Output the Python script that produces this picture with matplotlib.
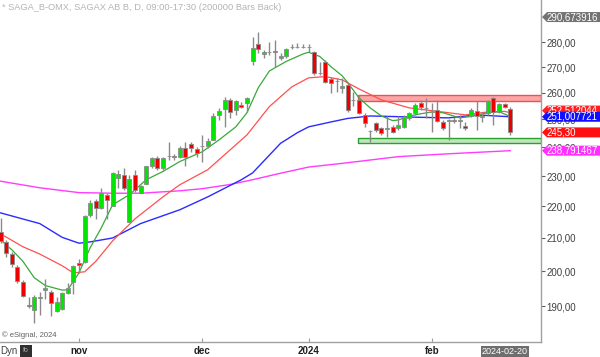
import numpy as np
import matplotlib
matplotlib.use("Agg")
import matplotlib.pyplot as plt
from matplotlib.patches import Polygon, Rectangle
from matplotlib.transforms import blended_transform_factory

plt.rcParams['font.family'] = ['Liberation Sans', 'DejaVu Sans']

# daily candles, SAGA B (bar index 0 = mid october 2023)
opens = [211.8, 208.8, 205.2, 201.3, 196.9, 190.2, 189.0, 192.3, 194.6, 194.1,
         188.7, 189.2, 193.8, 196.9, 202.5, 202.8, 217.3, 221.8, 219.5, 223.8,
         220.2, 229.4, 230.4, 215.1, 230.4, 224.5, 227.4, 233.3, 236.3, 232.9,
         236.8, 237.0, 236.7, 239.8, 241.2, 239.4, 240.3, 240.5, 242.6, 251.7,
         254.0, 257.4, 253.6, 255.5, 256.2, 272.5, 279.4, 275.3, 276.0, 276.4,
         273.7, 274.5, 278.0, 278.2, 278.0, 278.2, 276.2, 267.6, 272.1, 265.4,
         264.4, 261.9, 263.1, 257.2, 257.4, 251.7, 245.7, 248.8, 247.0, 246.6,
         247.3, 247.0, 247.3, 250.6, 252.4, 256.2, 254.2, 252.7, 253.6, 249.1,
         249.6, 249.8, 249.6, 247.7, 251.3, 253.2, 251.1, 252.4, 258.1, 252.8,
         255.8, 253.9]
highs = [216.3, 209.4, 205.8, 201.9, 197.5, 192.6, 193.2, 194.1, 197.8, 194.6,
         192.4, 194.1, 196.6, 201.9, 203.7, 217.3, 222.2, 222.5, 226.1, 224.5,
         231.5, 232.2, 232.9, 230.4, 232.2, 226.9, 233.6, 236.6, 237.0, 236.6,
         241.9, 237.7, 240.5, 241.9, 241.9, 240.1, 244.4, 243.3, 252.5, 254.4,
         258.5, 258.1, 257.4, 256.6, 258.5, 282.3, 284.4, 277.0, 280.2, 281.0,
         275.8, 277.8, 279.4, 279.8, 279.4, 279.4, 276.6, 272.1, 272.9, 266.2,
         265.8, 265.8, 263.8, 260.3, 259.2, 252.4, 246.2, 249.1, 247.3, 251.3,
         248.0, 251.3, 251.7, 252.8, 256.2, 257.4, 258.1, 256.2, 257.4, 249.8,
         250.2, 250.9, 251.7, 249.1, 254.4, 257.0, 252.8, 257.4, 258.5, 256.2,
         256.2, 254.7]
lows = [208.5, 204.3, 201.3, 196.4, 192.6, 189.5, 185.4, 187.6, 192.1, 187.3,
        188.2, 189.0, 193.5, 193.5, 199.5, 202.5, 216.7, 216.0, 219.2, 216.0,
        220.0, 226.1, 225.5, 215.0, 224.8, 224.3, 227.3, 232.9, 232.2, 232.2,
        235.6, 235.6, 236.3, 233.3, 238.4, 236.7, 234.9, 239.8, 242.4, 249.8,
        247.3, 250.6, 251.7, 254.4, 252.8, 270.9, 275.8, 273.7, 274.9, 270.1,
        272.9, 273.7, 277.4, 277.8, 277.8, 276.2, 267.0, 267.0, 263.8, 260.0,
        260.3, 260.0, 252.8, 255.1, 252.1, 247.3, 241.9, 245.5, 244.5, 243.7,
        245.2, 246.2, 247.0, 249.8, 251.7, 253.6, 250.6, 245.5, 249.1, 246.2,
        242.6, 248.8, 247.0, 246.2, 250.9, 246.2, 249.1, 251.7, 248.0, 252.4,
        254.4, 244.2]
closes = [209.1, 205.5, 202.2, 197.2, 192.9, 190.0, 192.4, 192.4, 195.2, 190.9,
          191.2, 193.8, 195.2, 201.6, 201.9, 217.0, 221.2, 219.5, 224.5, 222.2,
          231.1, 230.8, 226.1, 229.1, 225.2, 226.7, 233.3, 236.3, 232.9, 236.3,
          237.0, 236.7, 239.8, 236.7, 239.8, 238.1, 240.6, 242.2, 251.3, 253.2,
          257.4, 252.8, 257.0, 254.7, 258.1, 277.8, 277.4, 276.2, 276.2, 276.2,
          274.5, 277.4, 278.2, 278.0, 278.2, 278.0, 267.8, 267.8, 264.2, 263.8,
          264.6, 262.7, 253.6, 257.4, 252.4, 248.8, 245.9, 246.2, 245.2, 247.0,
          245.5, 248.0, 250.9, 252.4, 255.5, 254.7, 254.4, 252.9, 249.5, 247.0,
          249.8, 249.6, 249.8, 247.0, 253.6, 251.3, 251.3, 257.0, 252.8, 255.8,
          254.7, 245.3]

# moving averages (bar index, value)
ma10_x = [0, 2, 4, 6, 8, 11, 12, 14, 16, 18, 20, 23, 26, 29, 32, 36, 39, 42, 44,
          46, 48, 51, 54, 55, 57, 59, 61, 62, 64, 66, 68, 70, 71, 73, 75, 77, 79,
          82, 84, 87, 89, 91]
ma10_y = [209.4, 206.4, 202.9, 198.1, 195.8, 194.5, 194.6, 199.5, 207.0, 213.2,
          220.5, 223.8, 228.8, 231.6, 235.0, 238.4, 242.6, 247.3, 252.5, 261.9,
          268.5, 272.3, 275.3, 276.0, 274.3, 270.2, 266.6, 263.9, 258.1, 254.3,
          251.3, 249.6, 249.8, 251.3, 252.1, 252.8, 252.5, 250.6, 251.1, 252.5,
          252.9, 251.1]
ma20_x = [0, 4, 7, 11, 13, 15, 17, 20, 24, 29, 32, 37, 44, 48, 52, 55, 58, 61,
          64, 68, 71, 73, 80, 83, 87, 90, 91]
ma20_y = [211.3, 207.3, 205.1, 201.6, 199.5, 199.8, 202.9, 209.1, 216.0, 223.1,
          227.1, 232.2, 244.4, 254.8, 262.3, 265.8, 266.3, 265.0, 261.5, 257.3,
          255.5, 254.3, 252.5, 251.7, 252.8, 253.0, 252.5]
ma50_x = [0, 7, 11, 14, 16, 20, 25, 32, 37, 43, 45, 50, 53, 55, 59, 62, 66, 70,
          75, 80, 85, 91]
ma50_y = [217.9, 214.5, 210.2, 208.4, 208.8, 210.0, 214.5, 218.9, 223.1, 228.8,
          231.1, 241.4, 245.2, 247.3, 249.1, 250.4, 251.3, 251.1, 250.8, 250.6,
          251.7, 251.007721]
ma200_x = [0, 7, 14, 20, 25, 32, 36, 41, 45, 50, 55, 62, 71, 80, 91]
ma200_y = [228.3, 226.1, 224.5, 224.3, 224.3, 225.1, 225.8, 227.2, 228.8, 231.0,
           233.1, 234.6, 236.7, 237.7, 238.791467]

# support / resistance zones (start bar, low, high)
resist_zone = (63.8, 256.8, 259.2)
support_zone = (63.8, 241.4, 243.4)

month_pos = [14, 36, 55, 77]
month_lbl = ['nov', 'dec', '2024', 'feb']
price_ticks = [190, 200, 210, 220, 230, 240, 250, 260, 270, 280]

fig = plt.figure(figsize=(6, 3.57), dpi=100)
ax = fig.add_axes([0, 15 / 357, 541 / 600, 342 / 357])
ax.set_yscale('log')
ax.set_ylim(180.2, 298.06)
ax.set_xlim(-0.1, 96.5)

# zones
for (x0, lo, hi), fc, ec in [(resist_zone, '#f8a8a8', '#ff4a4a'),
                             (support_zone, '#bfe6bf', '#2ea02e')]:
    ax.add_patch(Rectangle((x0, lo), 96.5 - x0, hi - lo, facecolor=fc,
                           edgecolor=ec, lw=1, zorder=1))

# moving averages
ax.plot(ma200_x, ma200_y, color='#ff3cff', lw=1, zorder=2)
ax.plot(ma50_x, ma50_y, color='#2b2bff', lw=1, zorder=2)
ax.plot(ma20_x, ma20_y, color='#ff5050', lw=0.9, zorder=2)
ax.plot(ma10_x, ma10_y, color='#3aa83a', lw=0.9, zorder=2)

# candles
idx = np.arange(len(closes))
o = np.array(opens); c = np.array(closes)
ax.vlines(idx, lows, highs, color='#8a8a8a', lw=1, zorder=3)
cols = np.where(c >= o, '#00e600', '#ee0000')
ax.bar(idx, np.maximum(np.abs(c - o), 0.05), bottom=np.minimum(o, c), width=0.72,
       color=cols, edgecolor='#8a8a8a', lw=0.6, zorder=4)

# axes styling
for s in ['left', 'top']:
    ax.spines[s].set_visible(False)
for s in ['right', 'bottom']:
    ax.spines[s].set_color('#a0a0a0')
    ax.spines[s].set_linewidth(1)
ax.yaxis.tick_right()
ax.set_yticks(price_ticks)
ax.set_yticklabels([f"{v:.2f}".replace('.', ',') for v in price_ticks])
ax.yaxis.set_minor_locator(matplotlib.ticker.NullLocator())
ax.tick_params(axis='y', direction='out', length=3, width=0.8, color='#606060',
               labelsize=7, labelcolor='#404040', pad=1)
ax.set_xticks(month_pos)
ax.set_xticklabels(month_lbl, fontweight='bold')
ax.tick_params(axis='x', direction='in', length=3, width=0.8, color='#a0a0a0',
               labelsize=7, labelcolor='#202020', pad=3)

# price tags on the right scale
trans = blended_transform_factory(fig.transFigure, ax.transData)
h = np.exp(5 / 680)

def price_tag(v, txt, col):
    pts = [(542 / 600, v), (547 / 600, v * h), (1.0, v * h), (1.0, v / h), (547 / 600, v / h)]
    ax.add_patch(Polygon(pts, closed=True, facecolor=col, edgecolor='none',
                         transform=trans, clip_on=False, zorder=6))
    ax.text(547 / 600, v, txt, transform=trans, color='white', fontsize=7,
            va='center', ha='left', clip_on=False, zorder=6)

price_tag(290.673916, '290,673916', '#737373')
price_tag(253.3, '252,512044', '#ff2020')
price_tag(ma50_y[-1], '251,007721', '#1010ff')
price_tag(closes[-1], '245,30', '#ff1010')
price_tag(ma200_y[-1], '238,791467', '#ff30ff')

# header / footer text
fig.text(2 / 600, 1 - 8 / 357, '* SAGA_B-OMX, SAGAX AB B, D, 09:00-17:30 (200000 Bars Back)',
         color='#b4b4b4', fontsize=6.7, va='center', ha='left')
fig.text(2 / 600, 1 - 335 / 357, '\u00a9 eSignal, 2024', color='#606060',
         fontsize=5.5, va='center', ha='left')
fig.text(0, 1 - 351 / 357, 'Dyn', color='#404040', fontsize=7, va='center', ha='left')
fig.add_artist(Rectangle((20 / 600, 1 - 357 / 357), 12 / 600, 12 / 357,
                         transform=fig.transFigure, facecolor='#303030', edgecolor='none'))
fig.text(26 / 600, 1 - 351 / 357, 'fo', color='#b0b0b0', fontsize=5,
         va='center', ha='center')
fig.text(505 / 600, 1 - 351.5 / 357, '2024-02-20', color='white', fontsize=6.5,
         va='center', ha='center',
         bbox=dict(boxstyle='square,pad=0.15', facecolor='#6e6e6e', edgecolor='none'))

fig.savefig('out.png', dpi=100)
